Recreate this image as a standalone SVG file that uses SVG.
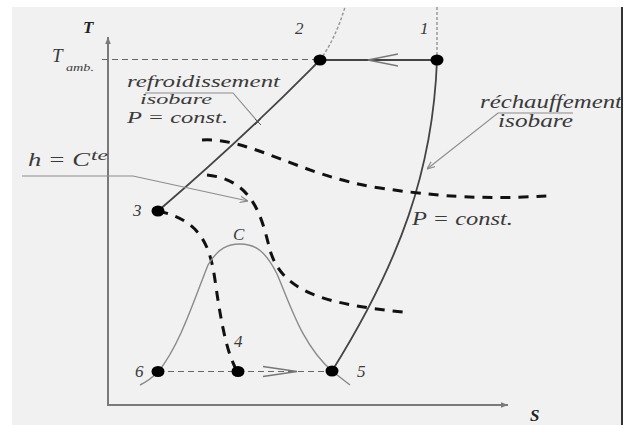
<svg xmlns="http://www.w3.org/2000/svg" width="626" height="425" viewBox="0 0 626 425">
<style>
.t{font-family:"Liberation Serif","Times New Roman",serif;font-style:italic;fill:#3a3a3a}
.b{font-weight:bold;fill:#222}
.axis{stroke:#7a7a7a;stroke-width:2;fill:none}
.iso{stroke:#444;stroke-width:1.8;fill:none}
.bell{stroke:#8a8a8a;stroke-width:1.4;fill:none}
.h{stroke:#111;stroke-width:3;fill:none;stroke-dasharray:10 8}
.thin{stroke:#666;stroke-width:1.2;fill:none;stroke-dasharray:6 4}
.dot{stroke:#999;stroke-width:1.5;fill:none;stroke-dasharray:3 2}
.lead{stroke:#8c8c8c;stroke-width:1.1;fill:none}
.pt{fill:#000}
</style>
<defs>
<marker id="ah" viewBox="0 0 10 10" refX="10" refY="5" markerWidth="8" markerHeight="8" orient="auto" markerUnits="userSpaceOnUse">
<path d="M0,1 L10,5 L0,9" fill="none" stroke="#8c8c8c" stroke-width="1.5"/>
</marker>
<marker id="ax" viewBox="0 0 10 10" refX="10" refY="5" markerWidth="9" markerHeight="7" orient="auto" markerUnits="userSpaceOnUse">
<path d="M0,1 L10,5 L0,9 Z" fill="#7a7a7a"/>
</marker>
</defs>
<rect x="0" y="0" width="626" height="425" fill="#ffffff"/>
<rect x="12" y="7" width="610" height="418" fill="#f1f1f1"/>
<line x1="622" y1="7" x2="622" y2="425" stroke="#333" stroke-width="2"/>

<g id="axes">
<line class="axis" x1="108" y1="405" x2="108" y2="37" marker-end="url(#ax)"/>
<line class="axis" x1="107" y1="405" x2="508" y2="405" marker-end="url(#ax)"/>
<text class="t b" x="83" y="33" font-size="17">T</text>
<text class="t b" x="530" y="421" font-size="17">S</text>
<text class="t" x="52" y="62" font-size="19">T</text>
<text class="t" x="66" y="71" font-size="11" textLength="28" lengthAdjust="spacingAndGlyphs">amb.</text>
</g>

<g id="connectors">
<line class="thin" x1="102" y1="59.5" x2="318" y2="59.5" stroke-dasharray="5 3"/>
<path class="dot" d="M320,60 Q335,40 345,7"/>
<path class="dot" d="M437,60 L437,7"/>
<line class="iso" x1="320" y1="60" x2="437" y2="60" stroke-width="1.5"/>
<path d="M398,54 L368,60 L398,66" fill="none" stroke="#777" stroke-width="1.4"/>
<path class="iso" d="M320,60 C295,85 250,132 158,211"/>
<path class="iso" d="M437,60 C433,170 400,262 332,371"/>
<path class="h" d="M202,140 C250,137 300,176 380,188 S505,198 548,196"/>
<path class="h" d="M207,175 C255,180 262,220 270,250 C282,292 325,304 403,312"/>
<path class="h" d="M158,211 C200,220 210,245 215,280 C222,330 228,355 237,371"/>
<path class="bell" d="M140,385 Q150,380 158,372 C180,345 194,300 208,265 C218,248 228,244 240,244 C256,244 266,252 277,274 C290,304 302,345 332,371 L350,385"/>
<line class="thin" x1="158" y1="371.5" x2="332" y2="371.5"/>
<path d="M263,366.5 L297,371.5 L263,376.5" fill="none" stroke="#777" stroke-width="1.3"/>
</g>

<g id="label-refroidissement">
<text class="t" x="127" y="87" font-size="16" textLength="153" lengthAdjust="spacingAndGlyphs">refroidissement</text>
<text class="t" x="140" y="104" font-size="15" textLength="72" lengthAdjust="spacingAndGlyphs">isobare</text>
<text class="t" x="127" y="123" font-size="17" textLength="101" lengthAdjust="spacingAndGlyphs">P = const.</text>
<path class="lead" d="M145,93 L233,93 L258,122"/>
<path d="M255,119 L261,125 M261,119 L255,125" stroke="#555" stroke-width="1"/>
</g>

<g id="label-rechauffement">
<text class="t" x="480" y="108" font-size="18" textLength="142" lengthAdjust="spacingAndGlyphs">réchauffement</text>
<text class="t" x="498" y="127" font-size="18" textLength="75" lengthAdjust="spacingAndGlyphs">isobare</text>
<path class="lead" d="M573,113 L498,113 L427,169" marker-end="url(#ah)"/>
</g>

<g id="label-h">
<text class="t" x="28" y="166" font-size="19" textLength="62" lengthAdjust="spacingAndGlyphs">h = C</text>
<text class="t" x="91" y="160" font-size="15" textLength="17" lengthAdjust="spacingAndGlyphs">te</text>
<path class="lead" d="M22,176 L133,176 L248,201" marker-end="url(#ah)"/>
</g>

<g id="label-P">
<text class="t" x="412" y="225" font-size="19" textLength="101" lengthAdjust="spacingAndGlyphs">P = const.</text>
</g>

<g id="label-C">
<text class="t" x="233" y="240" font-size="17">C</text>
</g>

<g id="n1"><ellipse class="pt" cx="437" cy="60" rx="6.5" ry="5.5"/><text class="t" x="420" y="34" font-size="17">1</text></g>
<g id="n2"><ellipse class="pt" cx="320" cy="60" rx="6.5" ry="5.5"/><text class="t" x="295" y="34" font-size="17">2</text></g>
<g id="n3"><ellipse class="pt" cx="158" cy="211" rx="6.5" ry="5.5"/><text class="t" x="133" y="216" font-size="17">3</text></g>
<g id="n4"><ellipse class="pt" cx="238" cy="371.5" rx="6.5" ry="5.5"/><text class="t" x="234" y="347" font-size="17">4</text></g>
<g id="n5"><ellipse class="pt" cx="332" cy="371" rx="6.5" ry="5.5"/><text class="t" x="357" y="377" font-size="17">5</text></g>
<g id="n6"><ellipse class="pt" cx="158" cy="371.5" rx="6.5" ry="5.5"/><text class="t" x="135" y="377" font-size="17">6</text></g>
</svg>
